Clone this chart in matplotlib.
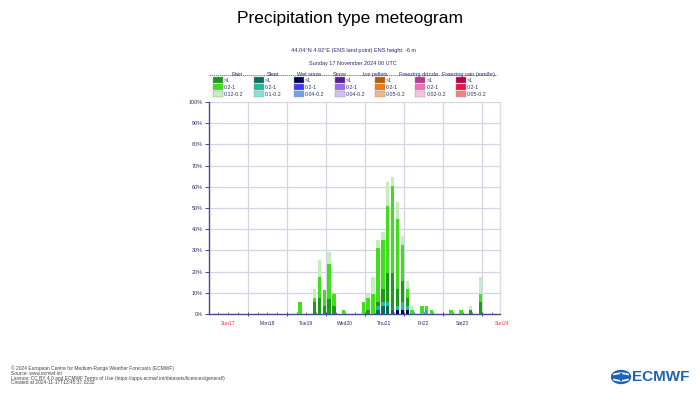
import numpy as np
import matplotlib.pyplot as plt
from matplotlib.patches import Rectangle, Ellipse

plt.rcParams['font.family'] = ['Liberation Sans', 'DejaVu Sans']

# bar centres, hours after Sun 17 Nov 00 UTC
hours = [56, 65, 68, 71, 74, 77, 83, 95, 98, 101, 104, 107, 110,
         113, 116, 119, 122, 125, 131, 134, 137, 149, 155, 161, 167]

# probabilities (%) per type / intensity, stacked from bottom
wet_snow_hi = [0, 0, 0, 0, 0, 0, 0, 0, 0, 0, 0, 0, 0,
               0, 1.9, 1.9, 1.9, 0, 0, 0, 0, 0, 0, 0, 0]
sleet_hi = [0, 0, 0, 0, 0, 0, 0, 0, 0, 0, 2.0, 3.8, 3.8,
            1.9, 0, 0, 0, 0, 0, 0, 0, 0, 0, 0, 0]
sleet_mid = [0, 0, 0, 0, 0, 0, 0, 0, 0, 0, 1.8, 1.9, 1.9,
             0, 1.9, 3.9, 1.9, 0, 0, 1.9, 0, 0, 0, 0, 0]
rain_hi = [0, 5.7, 7.6, 3.8, 7.0, 3.8, 0, 0, 1.9, 0, 2.0, 5.9, 13.8,
           17.6, 7.8, 9.8, 3.9, 0, 0, 0, 0, 0, 0, 1.9, 5.5]
rain_mid = [5.6, 2.0, 10.0, 7.7, 16.4, 5.8, 1.8, 5.6, 5.6, 9.4, 25.3, 23.3, 31.4,
            41.0, 33.2, 16.9, 3.9, 1.9, 3.8, 1.9, 1.9, 1.9, 1.9, 0, 3.9]
rain_lo = [0, 3.9, 7.7, 0, 5.9, 0, 0, 0, 1.9, 7.9, 3.9, 3.9, 11.5,
           4.0, 7.9, 4.4, 4.0, 1.9, 0, 0, 0, 0, 0, 1.9, 7.9]

day_labels = ['Sun17', 'Mon18', 'Tue19', 'Wed20', 'Thu21', 'Fri22', 'Sat23', 'Sun24']

leg_types = ['Rain', 'Sleet', 'Wet snow', 'Snow', 'Ice pellets',
             'Freezing drizzle', 'Freezing rain (mm/hr)']
leg_labels = [['>1', '0.2-1', '0.12-0.2'],
              ['>1', '0.2-1', '0.1-0.2'],
              ['>1', '0.2-1', '0.04-0.2'],
              ['>1', '0.2-1', '0.04-0.2'],
              ['>1', '0.2-1', '0.05-0.2'],
              ['>1', '0.2-1', '0.02-0.2'],
              ['>1', '0.2-1', '0.05-0.2']]
leg_colors = [['#1a9c16', '#3ee01c', '#c4eebc'],
              ['#0d6b5c', '#22b8a2', '#80e6d6'],
              ['#000058', '#3c3cf0', '#70a0f0'],
              ['#5a1a9c', '#9c6ae6', '#d0c2ee'],
              ['#b85c00', '#f07c10', '#e8b888'],
              ['#b83c8c', '#f070c0', '#f8c2e0'],
              ['#b8004c', '#f0104c', '#f08282']]

navy = '#2b2b6e'
W, H = 700, 400


def fx(x):
    return x / W


def fy(y):
    return 1 - y / H


fig = plt.figure(figsize=(7, 4), dpi=100)

fig.text(0.5, fy(19), 'Precipitation type meteogram', ha='center', va='center', fontsize=12.5)
fig.text(fx(353), fy(50.5), '44.04°N 4.92°E (ENS land point) ENS height: -6 m',
         ha='center', va='center', fontsize=4, color=navy)
fig.text(fx(353), fy(63), 'Sunday 17 November 2024 00 UTC',
         ha='center', va='center', fontsize=4, color=navy)

# legend header line with type names
fig.add_artist(plt.Line2D([fx(209), fx(497)], [fy(75), fy(75)], color='#555577', lw=0.5,
                          linestyle=(0, (2, 1))))
head_x = [237.5, 273, 309.5, 340, 375.5, 418.5, 469]
for name, x in zip(leg_types, head_x):
    fig.text(fx(x), fy(74.5), name, ha='center', va='center', fontsize=4, color=navy)

for c in range(7):
    x0 = 213 + c * 40.5
    for r in range(3):
        y0 = 77.5 + r * 7
        fig.add_artist(Rectangle((fx(x0), fy(y0 + 5.5)), 10 / W, 5.5 / H,
                                 transform=fig.transFigure, facecolor=leg_colors[c][r],
                                 edgecolor='#999999', lw=0.3))
        fig.text(fx(x0 + 10.8), fy(y0 + 2.8), leg_labels[c][r], ha='left', va='center',
                 fontsize=3.8, color=navy)

# main plot
ax = fig.add_axes([fx(208.7), fy(314), (500 - 208.7) / W, (314 - 102) / H])
h = np.array(hours)
layers = [(wet_snow_hi, leg_colors[2][0]), (sleet_hi, leg_colors[1][0]),
          (sleet_mid, leg_colors[1][1]), (rain_hi, leg_colors[0][0]),
          (rain_mid, leg_colors[0][1]), (rain_lo, leg_colors[0][2])]
bottom = np.zeros(len(hours))
for vals, col in layers:
    vals = np.array(vals)
    ax.bar(h, vals, width=2.1, bottom=bottom, color=col, zorder=3, linewidth=0)
    bottom += vals

ax.set_xlim(0, 179)
ax.set_ylim(0, 100)
ax.set_yticks(np.arange(0, 101, 10))
ax.set_yticklabels([f'{v}%' for v in range(0, 101, 10)], fontsize=3.9, color=navy)
ax.set_xticks(np.arange(24, 179, 24))
ax.set_xticks(np.arange(6, 179, 6), minor=True)
ax.set_xticklabels([])
ax.grid(True, axis='both', which='major', color='#d4d4e4', lw=0.9, zorder=0)
ax.tick_params(axis='y', length=3, width=0.6, color=navy, pad=1.5)
ax.tick_params(axis='x', which='major', length=3, width=0.6, color=navy, direction='inout')
ax.tick_params(axis='x', which='minor', length=1.5, width=0.5, color=navy, direction='in')
for i, lab in enumerate(day_labels):
    col = '#e8403c' if lab.startswith('Sun') else navy
    ax.text(12 + 24 * i, -3.2, lab, ha='center', va='top', fontsize=3.6, color=col,
            transform=ax.transData, clip_on=False)
for side in ['left', 'bottom']:
    ax.spines[side].set_color('#4a4a8c')
    ax.spines[side].set_linewidth(1.0)
for side in ['top', 'right']:
    ax.spines[side].set_color('#dcdcdc')
    ax.spines[side].set_linewidth(1.0)
ax.spines['top'].set_visible(False)

# footer
foot = ['© 2024 European Centre for Medium-Range Weather Forecasts (ECMWF)',
        'Source: www.ecmwf.int',
        'Licence: CC BY 4.0 and ECMWF Terms of Use (https://apps.ecmwf.int/datasets/licences/general/)',
        'Created at 2024-11-17T13:45:37.023Z']
for i, line in enumerate(foot):
    fig.text(fx(11), fy(368.5 + 4.8 * i), line, ha='left', va='center', fontsize=3.5,
             color='#444444')

# logo
lax = fig.add_axes([fx(611), fy(385), 22 / W, 16 / H])
lax.set_xlim(0, 22)
lax.set_ylim(0, 16)
lax.axis('off')
lax.add_patch(Ellipse((10, 8), 19, 13, color='#1e64b4'))
t = np.linspace(-1, 1, 30)
for yy in (5.5, 10.5):
    lax.plot(10 + 7 * t, yy + 1.2 * np.cos(t * 1.5) * np.sign(yy - 8), color='white', lw=1.2)
lax.plot([10, 10], [5, 11], color='#1e64b4', lw=1.5)
fig.text(fx(632), fy(377), 'ECMWF', ha='left', va='center', fontsize=11,
         fontweight='bold', color='#1e64b4')

fig.savefig('out.png', dpi=100)
